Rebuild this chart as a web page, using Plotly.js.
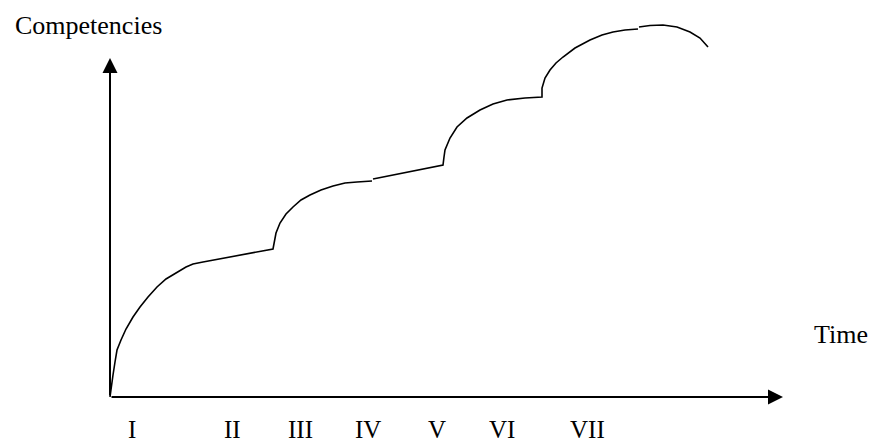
<!DOCTYPE html>
<html>
<head>
<meta charset="utf-8">
<script src="https://cdn.plot.ly/plotly-3.0.1.min.js"></script>
<style>html,body{margin:0;padding:0;background:#fff;}#chart{width:871px;height:445px;}</style>
</head>
<body>
<div id="chart"></div>
<script>
// Competency growth curve, segment 1 (stage I curve + plateau, stage II/III curve)
const seg1X = [0, 0.1, 0.3, 0.5, 0.7, 1.1, 1.6, 2.3, 3.0, 3.8, 4.7, 5.6, 6.7, 7.6, 8.3, 9.3, 16.3, 16.4, 16.6, 17.0, 17.6, 18.3, 19.1, 20.0, 21.1, 22.3, 23.5, 24.7, 26.2];
const seg1Y = [0, 0.9, 2.2, 3.5, 4.7, 5.7, 6.8, 8.0, 9.0, 10.0, 11.0, 11.8, 12.5, 13.0, 13.3, 13.5, 14.8, 15.5, 16.4, 17.4, 18.3, 19.0, 19.7, 20.2, 20.7, 21.1, 21.4, 21.5, 21.6];
// segment 2 (plateau IV, curves V-VI, VII)
const seg2X = [26.3, 33.3, 33.4, 33.5, 34.0, 34.7, 35.7, 37.0, 38.3, 39.7, 41.5, 43.2, 43.2, 43.5, 44.0, 44.6, 45.3, 46.5, 48.0, 49.2, 50.3, 51.5, 52.8];
const seg2Y = [21.8, 23.2, 24.0, 24.7, 25.9, 27.0, 27.9, 28.7, 29.3, 29.7, 29.9, 30.0, 30.9, 31.9, 32.7, 33.4, 34.0, 34.9, 35.7, 36.2, 36.5, 36.7, 36.8];
// segment 3 (final decline)
const seg3X = [52.9, 54.0, 55.3, 56.7, 58.0, 59.0, 59.8];
const seg3Y = [37.0, 37.15, 37.2, 37.0, 36.5, 35.9, 35.0];

const stageLabels = ['I', 'II', 'III', 'IV', 'V', 'VI', 'VII'];
const stageX = [2.2, 12.2, 19.0, 25.8, 32.7, 39.2, 47.7];

const xAxisEnd = 67.3;
const yAxisEnd = 33.9;
const xTitle = 'Time';
const yTitle = 'Competencies';

const lineStyle = {color: '#000', width: 1.6};
const traces = [
  {x: seg1X, y: seg1Y, mode: 'lines', line: lineStyle, hoverinfo: 'skip'},
  {x: seg2X, y: seg2Y, mode: 'lines', line: lineStyle, hoverinfo: 'skip'},
  {x: seg3X, y: seg3Y, mode: 'lines', line: lineStyle, hoverinfo: 'skip'}
];

const font = {family: '"Liberation Serif", "Times New Roman", serif', size: 26, color: '#000'};
const labelFont = {family: '"Liberation Serif", "Times New Roman", serif', size: 25, color: '#000'};
const annotations = [
  {x: xAxisEnd, y: 0, ax: 0, ay: 0, axref: 'x', ayref: 'y', xref: 'x', yref: 'y',
   text: '', showarrow: true, arrowhead: 2, arrowsize: 1.5, arrowwidth: 2, arrowcolor: '#000'},
  {x: 0, y: yAxisEnd, ax: 0, ay: 0, axref: 'x', ayref: 'y', xref: 'x', yref: 'y',
   text: '', showarrow: true, arrowhead: 2, arrowsize: 1.5, arrowwidth: 2, arrowcolor: '#000'},
  {x: -2.2, y: 37.2, xref: 'x', yref: 'y', text: yTitle, showarrow: false, font: font, xanchor: 'center', yanchor: 'middle', borderpad: 0},
  {x: 73.05, y: 6.3, xref: 'x', yref: 'y', text: xTitle, showarrow: false, font: font, xanchor: 'center', yanchor: 'middle', borderpad: 0}
];
stageLabels.forEach((t, i) => {
  annotations.push({x: stageX[i], y: 0.002, xref: 'x', yref: 'paper', text: t, showarrow: false,
    font: labelFont, xanchor: 'center', yanchor: 'bottom', borderpad: 0});
});

const hidden = {showgrid: false, zeroline: false, showticklabels: false, showline: false, ticks: '', fixedrange: true};
const layout = {
  width: 871, height: 445,
  margin: {l: 0, r: 0, t: 0, b: 0, pad: 0},
  paper_bgcolor: '#fff', plot_bgcolor: '#fff',
  showlegend: false,
  xaxis: Object.assign({range: [-11, 76.1]}, hidden),
  yaxis: Object.assign({range: [-4.8, 39.7]}, hidden),
  annotations: annotations
};
Plotly.newPlot('chart', traces, layout, {displayModeBar: false, staticPlot: true});
</script>
</body>
</html>
